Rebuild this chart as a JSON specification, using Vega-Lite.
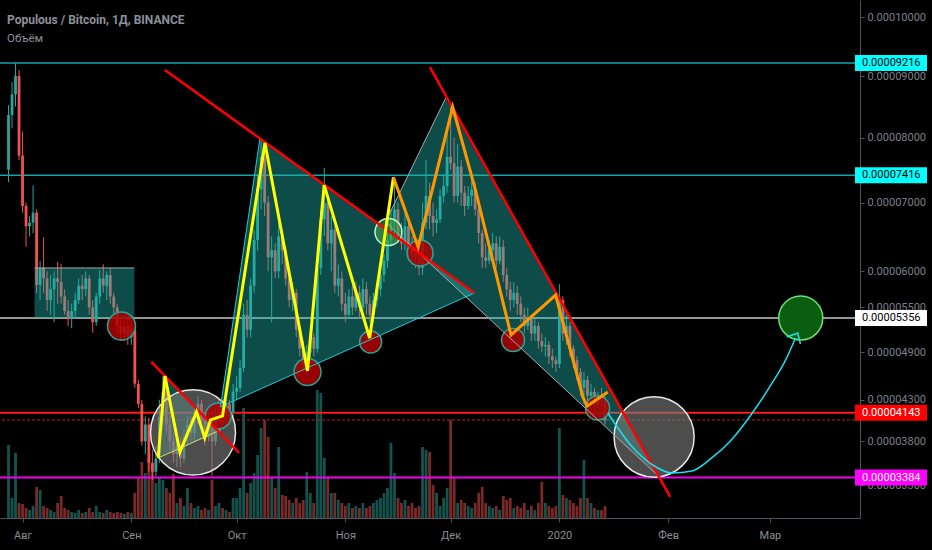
{
"$schema": "https://vega.github.io/schema/vega-lite/v6.json",
"width": 860, "height": 518,
"autosize": {"type": "none"},
"padding": {"left": 0, "top": 0, "right": 72, "bottom": 32},
"background": "#000000",
"config": {"view": {"stroke": null}, "font": "Roboto"},
"title": {"text": "Populous / Bitcoin, 1Д, BINANCE", "subtitle": "Объём", "anchor": "start", "frame": "group", "orient": "top", "offset": -45, "dx": 7, "fontSize": 12, "fontWeight": "bold", "color": "#8d9099", "subtitleFontSize": 11.5, "subtitleColor": "#8d9099", "subtitlePadding": 6, "font": "Roboto", "subtitleFont": "Roboto"},
"datasets": {
"candles": [
{"t":"2019-07-28","o":7500,"h":8524,"l":7310,"c":8363,"v":73},
{"t":"2019-07-29","o":8363,"h":8900,"l":8150,"c":8700,"v":20},
{"t":"2019-07-30","o":8700,"h":9216,"l":8500,"c":9000,"v":65},
{"t":"2019-07-31","o":9000,"h":9100,"l":7650,"c":7720,"v":15},
{"t":"2019-08-01","o":7720,"h":8100,"l":6850,"c":6950,"v":14},
{"t":"2019-08-02","o":6950,"h":7000,"l":6350,"c":6650,"v":10},
{"t":"2019-08-03","o":6650,"h":6800,"l":6500,"c":6700,"v":8},
{"t":"2019-08-04","o":6700,"h":7260,"l":6550,"c":6850,"v":12},
{"t":"2019-08-05","o":6850,"h":6900,"l":5700,"c":5810,"v":31},
{"t":"2019-08-06","o":5810,"h":6150,"l":5600,"c":6050,"v":28},
{"t":"2019-08-07","o":6050,"h":6490,"l":5700,"c":5900,"v":12},
{"t":"2019-08-08","o":5900,"h":6000,"l":5450,"c":5600,"v":10},
{"t":"2019-08-09","o":5600,"h":5950,"l":5400,"c":5750,"v":8},
{"t":"2019-08-10","o":5750,"h":6000,"l":5300,"c":5900,"v":6},
{"t":"2019-08-11","o":5900,"h":6130,"l":5550,"c":5850,"v":15},
{"t":"2019-08-12","o":5850,"h":6100,"l":5550,"c":5650,"v":22},
{"t":"2019-08-13","o":5650,"h":5750,"l":5400,"c":5450,"v":10},
{"t":"2019-08-14","o":5450,"h":5600,"l":5250,"c":5350,"v":8},
{"t":"2019-08-15","o":5350,"h":5550,"l":5220,"c":5450,"v":6},
{"t":"2019-08-16","o":5450,"h":5700,"l":5350,"c":5600,"v":5},
{"t":"2019-08-17","o":5600,"h":5900,"l":5550,"c":5800,"v":8},
{"t":"2019-08-18","o":5800,"h":5950,"l":5600,"c":5750,"v":5},
{"t":"2019-08-19","o":5750,"h":6000,"l":5650,"c":5900,"v":6},
{"t":"2019-08-20","o":5900,"h":5950,"l":5400,"c":5500,"v":10},
{"t":"2019-08-21","o":5500,"h":5600,"l":5160,"c":5300,"v":6},
{"t":"2019-08-22","o":5300,"h":5700,"l":5250,"c":5650,"v":12},
{"t":"2019-08-23","o":5650,"h":6020,"l":5550,"c":5900,"v":6},
{"t":"2019-08-24","o":5900,"h":6100,"l":5700,"c":5800,"v":5},
{"t":"2019-08-25","o":5800,"h":6000,"l":5600,"c":5950,"v":8},
{"t":"2019-08-26","o":5950,"h":6050,"l":5550,"c":5650,"v":6},
{"t":"2019-08-27","o":5650,"h":5700,"l":5400,"c":5500,"v":5},
{"t":"2019-08-28","o":5500,"h":5550,"l":5150,"c":5250,"v":6},
{"t":"2019-08-29","o":5250,"h":5350,"l":5050,"c":5150,"v":5},
{"t":"2019-08-30","o":5150,"h":5350,"l":5050,"c":5250,"v":4},
{"t":"2019-08-31","o":5250,"h":5350,"l":5000,"c":5100,"v":6},
{"t":"2019-09-01","o":5100,"h":5300,"l":5000,"c":5200,"v":5},
{"t":"2019-09-02","o":5200,"h":5250,"l":4450,"c":4500,"v":25},
{"t":"2019-09-03","o":4500,"h":4550,"l":4200,"c":4250,"v":40},
{"t":"2019-09-04","o":4250,"h":4300,"l":3750,"c":3800,"v":56},
{"t":"2019-09-05","o":3800,"h":4100,"l":3650,"c":4000,"v":45},
{"t":"2019-09-06","o":4000,"h":4080,"l":3450,"c":3550,"v":60},
{"t":"2019-09-07","o":3550,"h":3700,"l":3357,"c":3450,"v":55},
{"t":"2019-09-08","o":3450,"h":3750,"l":3400,"c":3600,"v":35},
{"t":"2019-09-09","o":3600,"h":4300,"l":3550,"c":4100,"v":41},
{"t":"2019-09-10","o":4100,"h":4600,"l":4000,"c":4400,"v":38},
{"t":"2019-09-11","o":4400,"h":4550,"l":3900,"c":4000,"v":30},
{"t":"2019-09-12","o":4000,"h":4150,"l":3700,"c":3800,"v":25},
{"t":"2019-09-13","o":3800,"h":3900,"l":3550,"c":3650,"v":44},
{"t":"2019-09-14","o":3650,"h":3850,"l":3500,"c":3750,"v":15},
{"t":"2019-09-15","o":3750,"h":3850,"l":3500,"c":3600,"v":20},
{"t":"2019-09-16","o":3600,"h":3950,"l":3550,"c":3850,"v":12},
{"t":"2019-09-17","o":3850,"h":4100,"l":3750,"c":4000,"v":30},
{"t":"2019-09-18","o":4000,"h":4100,"l":3800,"c":3900,"v":15},
{"t":"2019-09-19","o":3900,"h":4200,"l":3800,"c":4100,"v":10},
{"t":"2019-09-20","o":4100,"h":4350,"l":4000,"c":4250,"v":12},
{"t":"2019-09-21","o":4250,"h":4300,"l":3950,"c":4050,"v":8},
{"t":"2019-09-22","o":4050,"h":4100,"l":3750,"c":3850,"v":10},
{"t":"2019-09-23","o":3850,"h":4150,"l":3800,"c":4050,"v":8},
{"t":"2019-09-24","o":4050,"h":4100,"l":3400,"c":3800,"v":38},
{"t":"2019-09-25","o":3800,"h":4200,"l":3750,"c":4100,"v":12},
{"t":"2019-09-26","o":4100,"h":4300,"l":4000,"c":4200,"v":15},
{"t":"2019-09-27","o":4200,"h":4300,"l":4000,"c":4100,"v":10},
{"t":"2019-09-28","o":4100,"h":4350,"l":4050,"c":4250,"v":8},
{"t":"2019-09-29","o":4250,"h":4300,"l":4050,"c":4150,"v":6},
{"t":"2019-09-30","o":4150,"h":4500,"l":4100,"c":4400,"v":20},
{"t":"2019-10-01","o":4400,"h":4600,"l":4300,"c":4450,"v":20},
{"t":"2019-10-02","o":4450,"h":4800,"l":4400,"c":4700,"v":30},
{"t":"2019-10-03","o":4700,"h":5550,"l":4650,"c":5400,"v":110},
{"t":"2019-10-04","o":5400,"h":5600,"l":5100,"c":5200,"v":25},
{"t":"2019-10-05","o":5200,"h":5900,"l":5100,"c":5800,"v":35},
{"t":"2019-10-06","o":5800,"h":6600,"l":5700,"c":6450,"v":45},
{"t":"2019-10-07","o":6450,"h":7400,"l":6300,"c":7200,"v":63},
{"t":"2019-10-08","o":7200,"h":7990,"l":6900,"c":7700,"v":90},
{"t":"2019-10-09","o":7700,"h":7950,"l":6800,"c":7000,"v":98},
{"t":"2019-10-10","o":7000,"h":7100,"l":6000,"c":6200,"v":81},
{"t":"2019-10-11","o":6200,"h":6500,"l":5300,"c":6300,"v":40},
{"t":"2019-10-12","o":6300,"h":6400,"l":5900,"c":6000,"v":30},
{"t":"2019-10-13","o":6000,"h":6700,"l":5900,"c":6500,"v":71},
{"t":"2019-10-14","o":6500,"h":6600,"l":6100,"c":6300,"v":23},
{"t":"2019-10-15","o":6300,"h":6350,"l":5800,"c":5900,"v":22},
{"t":"2019-10-16","o":5900,"h":6000,"l":5500,"c":5600,"v":18},
{"t":"2019-10-17","o":5600,"h":5850,"l":5450,"c":5700,"v":15},
{"t":"2019-10-18","o":5700,"h":5750,"l":5100,"c":5200,"v":20},
{"t":"2019-10-19","o":5200,"h":5250,"l":4850,"c":4950,"v":15},
{"t":"2019-10-20","o":4950,"h":5050,"l":4650,"c":4750,"v":18},
{"t":"2019-10-21","o":4750,"h":5000,"l":4600,"c":4900,"v":46},
{"t":"2019-10-22","o":4900,"h":5200,"l":4800,"c":5100,"v":25},
{"t":"2019-10-23","o":5100,"h":5150,"l":4850,"c":4950,"v":15},
{"t":"2019-10-24","o":4950,"h":6150,"l":4900,"c":6050,"v":128},
{"t":"2019-10-25","o":6050,"h":6900,"l":5950,"c":6750,"v":125},
{"t":"2019-10-26","o":6750,"h":7530,"l":6500,"c":7000,"v":60},
{"t":"2019-10-27","o":7000,"h":7100,"l":6300,"c":6400,"v":40},
{"t":"2019-10-28","o":6400,"h":6800,"l":6000,"c":6600,"v":25},
{"t":"2019-10-29","o":6600,"h":6650,"l":5700,"c":5800,"v":25},
{"t":"2019-10-30","o":5800,"h":6100,"l":5650,"c":5900,"v":18},
{"t":"2019-10-31","o":5900,"h":6000,"l":5450,"c":5550,"v":15},
{"t":"2019-11-01","o":5550,"h":5700,"l":5300,"c":5400,"v":12},
{"t":"2019-11-02","o":5400,"h":5750,"l":5350,"c":5650,"v":15},
{"t":"2019-11-03","o":5650,"h":5800,"l":5400,"c":5500,"v":10},
{"t":"2019-11-04","o":5500,"h":5850,"l":5450,"c":5700,"v":12},
{"t":"2019-11-05","o":5700,"h":5800,"l":5350,"c":5500,"v":10},
{"t":"2019-11-06","o":5500,"h":5900,"l":5450,"c":5750,"v":15},
{"t":"2019-11-07","o":5750,"h":5850,"l":5400,"c":5550,"v":10},
{"t":"2019-11-08","o":5550,"h":5650,"l":5300,"c":5400,"v":12},
{"t":"2019-11-09","o":5400,"h":5700,"l":5300,"c":5600,"v":15},
{"t":"2019-11-10","o":5600,"h":5850,"l":5500,"c":5750,"v":18},
{"t":"2019-11-11","o":5750,"h":6050,"l":5650,"c":5950,"v":20},
{"t":"2019-11-12","o":5950,"h":6250,"l":5850,"c":6150,"v":25},
{"t":"2019-11-13","o":6150,"h":6550,"l":6050,"c":6450,"v":30},
{"t":"2019-11-14","o":6450,"h":6900,"l":6350,"c":6700,"v":75},
{"t":"2019-11-15","o":6700,"h":7380,"l":6500,"c":6900,"v":45},
{"t":"2019-11-16","o":6900,"h":7000,"l":6400,"c":6500,"v":20},
{"t":"2019-11-17","o":6500,"h":6700,"l":6300,"c":6400,"v":15},
{"t":"2019-11-18","o":6400,"h":6900,"l":6300,"c":6650,"v":18},
{"t":"2019-11-19","o":6650,"h":6750,"l":6200,"c":6350,"v":12},
{"t":"2019-11-20","o":6350,"h":6500,"l":6100,"c":6250,"v":15},
{"t":"2019-11-21","o":6250,"h":6400,"l":6050,"c":6200,"v":10},
{"t":"2019-11-22","o":6200,"h":6300,"l":5950,"c":6050,"v":12},
{"t":"2019-11-23","o":6050,"h":7000,"l":5950,"c":6700,"v":71},
{"t":"2019-11-24","o":6700,"h":7650,"l":6600,"c":7100,"v":68},
{"t":"2019-11-25","o":7100,"h":7300,"l":6600,"c":6800,"v":66},
{"t":"2019-11-26","o":6800,"h":7000,"l":6500,"c":6700,"v":33},
{"t":"2019-11-27","o":6700,"h":6900,"l":6550,"c":6750,"v":25},
{"t":"2019-11-28","o":6750,"h":7200,"l":6700,"c":7100,"v":12},
{"t":"2019-11-29","o":7100,"h":7400,"l":7000,"c":7250,"v":20},
{"t":"2019-11-30","o":7250,"h":8100,"l":7150,"c":7700,"v":30},
{"t":"2019-12-01","o":7700,"h":8490,"l":7500,"c":7600,"v":98},
{"t":"2019-12-02","o":7600,"h":8000,"l":7000,"c":7100,"v":41},
{"t":"2019-12-03","o":7100,"h":7900,"l":7000,"c":7550,"v":15},
{"t":"2019-12-04","o":7550,"h":7650,"l":6950,"c":7150,"v":18},
{"t":"2019-12-05","o":7150,"h":7250,"l":6800,"c":6950,"v":15},
{"t":"2019-12-06","o":6950,"h":7250,"l":6900,"c":7100,"v":12},
{"t":"2019-12-07","o":7100,"h":7350,"l":6950,"c":7200,"v":10},
{"t":"2019-12-08","o":7200,"h":7300,"l":6800,"c":6900,"v":15},
{"t":"2019-12-09","o":6900,"h":7000,"l":6400,"c":6550,"v":25},
{"t":"2019-12-10","o":6550,"h":6600,"l":6050,"c":6200,"v":31},
{"t":"2019-12-11","o":6200,"h":6400,"l":6050,"c":6150,"v":15},
{"t":"2019-12-12","o":6150,"h":6450,"l":6100,"c":6300,"v":12},
{"t":"2019-12-13","o":6300,"h":6550,"l":6200,"c":6400,"v":10},
{"t":"2019-12-14","o":6400,"h":6500,"l":6050,"c":6150,"v":12},
{"t":"2019-12-15","o":6150,"h":6500,"l":6100,"c":6350,"v":8},
{"t":"2019-12-16","o":6350,"h":6450,"l":5850,"c":5950,"v":22},
{"t":"2019-12-17","o":5950,"h":6050,"l":5650,"c":5750,"v":18},
{"t":"2019-12-18","o":5750,"h":5850,"l":5450,"c":5600,"v":20},
{"t":"2019-12-19","o":5600,"h":5850,"l":5500,"c":5700,"v":10},
{"t":"2019-12-20","o":5700,"h":5800,"l":5400,"c":5550,"v":12},
{"t":"2019-12-21","o":5550,"h":5650,"l":5300,"c":5400,"v":10},
{"t":"2019-12-22","o":5400,"h":5500,"l":5150,"c":5250,"v":15},
{"t":"2019-12-23","o":5250,"h":5500,"l":5200,"c":5350,"v":8},
{"t":"2019-12-24","o":5350,"h":5400,"l":5050,"c":5150,"v":12},
{"t":"2019-12-25","o":5150,"h":5350,"l":5050,"c":5250,"v":8},
{"t":"2019-12-26","o":5250,"h":5300,"l":4950,"c":5050,"v":15},
{"t":"2019-12-27","o":5050,"h":5150,"l":4900,"c":4980,"v":36},
{"t":"2019-12-28","o":4980,"h":5100,"l":4850,"c":5000,"v":15},
{"t":"2019-12-29","o":5000,"h":5050,"l":4750,"c":4850,"v":12},
{"t":"2019-12-30","o":4850,"h":4950,"l":4700,"c":4800,"v":10},
{"t":"2019-12-31","o":4800,"h":4850,"l":4650,"c":4750,"v":12},
{"t":"2020-01-01","o":4750,"h":5820,"l":4700,"c":5600,"v":90},
{"t":"2020-01-02","o":5600,"h":5650,"l":5050,"c":5150,"v":23},
{"t":"2020-01-03","o":5150,"h":5400,"l":5000,"c":5250,"v":20},
{"t":"2020-01-04","o":5250,"h":5300,"l":4850,"c":4950,"v":18},
{"t":"2020-01-05","o":4950,"h":5000,"l":4700,"c":4800,"v":15},
{"t":"2020-01-06","o":4800,"h":4850,"l":4550,"c":4650,"v":12},
{"t":"2020-01-07","o":4650,"h":4700,"l":4350,"c":4450,"v":20},
{"t":"2020-01-08","o":4450,"h":4650,"l":4250,"c":4550,"v":58},
{"t":"2020-01-09","o":4550,"h":4600,"l":4250,"c":4350,"v":20},
{"t":"2020-01-10","o":4350,"h":4500,"l":4250,"c":4400,"v":15},
{"t":"2020-01-11","o":4400,"h":4450,"l":4150,"c":4250,"v":10},
{"t":"2020-01-12","o":4250,"h":4400,"l":4200,"c":4350,"v":8},
{"t":"2020-01-13","o":4350,"h":4450,"l":4200,"c":4300,"v":8},
{"t":"2020-01-14","o":4300,"h":4350,"l":4000,"c":4050,"v":12}
],
"levels": [
{"p":9216,"kind":"r1","lab":"0.00009216"},
{"p":7416,"kind":"r2","lab":"0.00007416"},
{"p":5356,"kind":"mid","lab":"0.00005356"},
{"p":4143,"kind":"s1","lab":"0.00004143"},
{"p":4055,"kind":"s1b","lab":""},
{"p":3384,"kind":"s2","lab":"0.00003384"}
],
"zones": [
{"g":"box","t":"2019-08-04T10:00:00Z","p":6048,"p2":5356},
{"g":"box","t":"2019-09-01T21:00:00Z","p":6048,"p2":5356},
{"g":"tri1","t":"2019-09-26T10:00:00Z","p":4213,"p2":4213},
{"g":"tri1","t":"2019-10-07T16:00:00Z","p":7996,"p2":4432},
{"g":"tri1","t":"2019-12-07T19:00:00Z","p":5698,"p2":5698},
{"g":"tri2","t":"2019-11-12T10:00:00Z","p":6711,"p2":6711},
{"g":"tri2","t":"2019-11-29T14:00:00Z","p":8637,"p2":5904},
{"g":"tri2","t":"2020-01-29T12:00:00Z","p":3390,"p2":3390},
{"g":"triS","t":"2019-09-08T16:00:00Z","p":3607,"p2":3607},
{"g":"triS","t":"2019-09-10T14:00:00Z","p":4611,"p2":3640},
{"g":"triS","t":"2019-09-26T03:00:00Z","p":3911,"p2":3911}
],
"circles": [
{"k":"zone","t":"2019-09-18T14:00:00Z","p":3906,"rd":11.97},
{"k":"zone","t":"2020-01-28T00:00:00Z","p":3852,"rd":11.27},
{"k":"break","t":"2019-08-29T05:00:00Z","p":5249,"rd":3.94},
{"k":"break","t":"2019-09-25T19:00:00Z","p":4103,"rd":3.66},
{"k":"break","t":"2019-10-21T05:00:00Z","p":4650,"rd":3.8},
{"k":"break","t":"2019-11-08T05:00:00Z","p":5038,"rd":3.1},
{"k":"break","t":"2019-11-22T07:00:00Z","p":6261,"rd":3.66},
{"k":"break","t":"2019-12-18T19:00:00Z","p":5064,"rd":3.24},
{"k":"break","t":"2020-01-11T21:00:00Z","p":4200,"rd":3.38},
{"k":"touch","t":"2019-11-13T07:00:00Z","p":6566,"rd":3.8},
{"k":"target","t":"2020-03-09T19:00:00Z","p":5356,"rd":6.2}
],
"paths": [
{"g":"boxtop","i":0,"t":"2019-08-04T10:00:00Z","p":6048},
{"g":"boxtop","i":1,"t":"2019-09-01T21:00:00Z","p":6048},
{"g":"edge1L","i":0,"t":"2019-09-26T10:00:00Z","p":4213},
{"g":"edge1L","i":1,"t":"2019-10-07T16:00:00Z","p":7996},
{"g":"edge1B","i":0,"t":"2019-09-26T10:00:00Z","p":4213},
{"g":"edge1B","i":1,"t":"2019-12-07T19:00:00Z","p":5698},
{"g":"edge2L","i":0,"t":"2019-11-12T10:00:00Z","p":6711},
{"g":"edge2L","i":1,"t":"2019-11-29T14:00:00Z","p":8637},
{"g":"edge2B","i":0,"t":"2019-11-12T10:00:00Z","p":6711},
{"g":"edge2B","i":1,"t":"2020-01-29T12:00:00Z","p":3390},
{"g":"base","i":0,"t":"2019-09-08T16:00:00Z","p":3607},
{"g":"base","i":1,"t":"2019-09-26T10:00:00Z","p":3935},
{"g":"trendA","i":0,"t":"2019-09-10T14:00:00Z","p":9100},
{"g":"trendA","i":1,"t":"2019-12-07T19:00:00Z","p":5698},
{"g":"trendB","i":0,"t":"2019-09-06T17:00:00Z","p":4778},
{"g":"trendB","i":1,"t":"2019-10-01T17:00:00Z","p":3665},
{"g":"trendC","i":0,"t":"2019-11-25T02:00:00Z","p":9150},
{"g":"trendC","i":1,"t":"2020-02-01T14:00:00Z","p":3170},
{"g":"wave1","i":0,"t":"2019-09-08T16:00:00Z","p":3607},
{"g":"wave1","i":1,"t":"2019-09-10T14:00:00Z","p":4598},
{"g":"wave1","i":2,"t":"2019-09-14T20:00:00Z","p":3676},
{"g":"wave1","i":3,"t":"2019-09-19T14:00:00Z","p":4152},
{"g":"wave1","i":4,"t":"2019-09-21T22:00:00Z","p":3841},
{"g":"wave1","i":5,"t":"2019-09-23T14:00:00Z","p":4055},
{"g":"wave1","i":6,"t":"2019-09-27T00:00:00Z","p":4103},
{"g":"wave1","i":7,"t":"2019-10-09T02:00:00Z","p":7917},
{"g":"wave1","i":8,"t":"2019-10-21T05:00:00Z","p":4663},
{"g":"wave1","i":9,"t":"2019-10-25T23:00:00Z","p":7265},
{"g":"wave1","i":10,"t":"2019-11-07T22:00:00Z","p":5090},
{"g":"wave1","i":11,"t":"2019-11-14T17:00:00Z","p":7386},
{"g":"wave2","i":0,"t":"2019-11-14T17:00:00Z","p":7386},
{"g":"wave2","i":1,"t":"2019-11-21T18:00:00Z","p":6348},
{"g":"wave2","i":2,"t":"2019-12-01T14:00:00Z","p":8492},
{"g":"wave2","i":3,"t":"2019-12-08T02:00:00Z","p":7190},
{"g":"wave2","i":4,"t":"2019-12-18T05:00:00Z","p":5130},
{"g":"wave2","i":5,"t":"2019-12-30T22:00:00Z","p":5670},
{"g":"wave2","i":6,"t":"2020-01-07T19:00:00Z","p":4323},
{"g":"wave2","i":7,"t":"2020-01-08T22:00:00Z","p":4225},
{"g":"wave2","i":8,"t":"2020-01-14T19:00:00Z","p":4398},
{"g":"arrow","i":0,"t":"2020-01-14T19:00:00Z","p":4139},
{"g":"arrow","i":1,"t":"2020-01-21T19:00:00Z","p":3734},
{"g":"arrow","i":2,"t":"2020-01-28T01:00:00Z","p":3515},
{"g":"arrow","i":3,"t":"2020-02-02T03:00:00Z","p":3435},
{"g":"arrow","i":4,"t":"2020-02-07T19:00:00Z","p":3458},
{"g":"arrow","i":5,"t":"2020-02-13T10:00:00Z","p":3607},
{"g":"arrow","i":6,"t":"2020-02-19T00:00:00Z","p":3817},
{"g":"arrow","i":7,"t":"2020-02-24T14:00:00Z","p":4115},
{"g":"arrow","i":8,"t":"2020-03-01T07:00:00Z","p":4486},
{"g":"arrow","i":9,"t":"2020-03-05T12:00:00Z","p":4804},
{"g":"arrow","i":10,"t":"2020-03-08T07:00:00Z","p":5090},
{"g":"head","i":0,"t":"2020-03-05T19:00:00Z","p":5103},
{"g":"head","i":1,"t":"2020-03-08T22:00:00Z","p":5156},
{"g":"head","i":2,"t":"2020-03-09T17:00:00Z","p":5011}
]
},
"layer": [
{
"data": {"name": "candles"},
"mark": {"type": "bar", "width": 2.8, "opacity": 0.5},
"encoding": {
"x": {"field": "t", "type": "temporal", "scale": {"type": "utc", "domain": [{"year": 2019, "month": 7, "date": 27, "utc": true}, {"year": 2020, "month": 3, "date": 25, "hours": 6, "utc": true}], "nice": false},
"axis": {"values": [{"year": 2019, "month": 8, "date": 1, "utc": true}, {"year": 2019, "month": 9, "date": 1, "utc": true}, {"year": 2019, "month": 10, "date": 1, "utc": true}, {"year": 2019, "month": 11, "date": 1, "utc": true}, {"year": 2019, "month": 12, "date": 1, "utc": true}, {"year": 2020, "month": 1, "date": 1, "utc": true}, {"year": 2020, "month": 2, "date": 1, "utc": true}, {"year": 2020, "month": 3, "date": 1, "utc": true}],
"labelExpr": "utcmonth(datum.value) == 0 ? '2020' : ['Янв','Фев','Мар','Апр','Май','Июн','Июл','Авг','Сен','Окт','Ноя','Дек'][utcmonth(datum.value)]",
"title": null, "grid": false, "tickSize": 4, "labelPadding": 7, "labelColor": "#8a8d95", "tickColor": "#50535d", "domainColor": "#50535d", "labelFontSize": 11, "labelFont": "Roboto", "labelFlush": false}},
"y": {"field": "v", "type": "quantitative", "scale": {"domain": [0, 518]}, "axis": null},
"color": {"condition": {"test": "datum.c >= datum.o", "value": "#26a69a"}, "value": "#ef5350"}
}
},
{
"layer": [
{"data": {"name": "levels"}, "transform": [{"filter": {"field": "kind", "oneOf": ["r1", "r2"]}}],
 "mark": {"type": "rule", "color": "#16a3a8", "strokeWidth": 1.5},
 "encoding": {"y": {"field": "p", "type": "quantitative"}}},
{"data": {"name": "levels"}, "transform": [{"filter": {"field": "kind", "equal": "mid"}}],
 "mark": {"type": "rule", "color": "#c8c8c8", "strokeWidth": 1.5},
 "encoding": {"y": {"field": "p", "type": "quantitative"}}},
{"data": {"name": "levels"}, "transform": [{"filter": {"field": "kind", "equal": "s1"}}],
 "mark": {"type": "rule", "color": "#ff1a1a", "strokeWidth": 2},
 "encoding": {"y": {"field": "p", "type": "quantitative"}}},
{"data": {"name": "levels"}, "transform": [{"filter": {"field": "kind", "equal": "s1b"}}],
 "mark": {"type": "rule", "color": "#b52222", "strokeWidth": 1, "strokeDash": [3, 2]},
 "encoding": {"y": {"field": "p", "type": "quantitative"}}},
{"data": {"name": "levels"}, "transform": [{"filter": {"field": "kind", "equal": "s2"}}],
 "mark": {"type": "rule", "color": "#f000f0", "strokeWidth": 2},
 "encoding": {"y": {"field": "p", "type": "quantitative"}}},
{"data": {"name": "candles"},
 "mark": {"type": "rule", "strokeWidth": 1},
 "encoding": {
  "x": {"field": "t", "type": "temporal"},
  "y": {"field": "l", "type": "quantitative", "scale": {"type": "pow", "exponent": 0.6, "domain": [2943, 10296], "nice": false, "zero": false},
   "axis": {"orient": "right", "values": [3300, 3800, 4300, 4900, 5500, 6000, 7000, 8000, 9000, 10000], "labelExpr": "format(datum.value / 100000000, '.8f')", "title": null, "grid": false, "tickSize": 4, "labelPadding": 3, "labelColor": "#7d808a", "tickColor": "#50535d", "domainColor": "#50535d", "labelFontSize": 11, "labelFont": "Roboto"}},
  "y2": {"field": "h"},
  "color": {"condition": {"test": "datum.c >= datum.o", "value": "#26a69a"}, "value": "#ef5350"}}},
{"data": {"name": "candles"},
 "mark": {"type": "bar", "width": 2.8},
 "encoding": {
  "x": {"field": "t", "type": "temporal"},
  "y": {"field": "o", "type": "quantitative"},
  "y2": {"field": "c"},
  "color": {"condition": {"test": "datum.c >= datum.o", "value": "#26a69a"}, "value": "#ef5350"}}},
{"data": {"name": "zones"},
 "mark": {"type": "area", "color": "#22b5ad", "opacity": 0.42},
 "encoding": {
  "x": {"field": "t", "type": "temporal"},
  "y": {"field": "p", "type": "quantitative"},
  "y2": {"field": "p2"},
  "detail": {"field": "g"}}},
{"data": {"name": "circles"}, "transform": [{"filter": {"field": "k", "equal": "zone"}}],
 "mark": {"type": "point", "shape": "circle", "filled": true, "fill": "#7c7c7c", "fillOpacity": 0.62, "stroke": "#e8e8e8", "strokeWidth": 1.5, "strokeOpacity": 1, "opacity": 1},
 "encoding": {"x": {"field": "t", "type": "temporal"}, "y": {"field": "p", "type": "quantitative"},
  "size": {"field": "rd", "type": "quantitative", "scale": {"type": "pow", "exponent": 2, "domain": [0, 10], "range": [0, 5041]}, "legend": null}}},
{"data": {"name": "circles"}, "transform": [{"filter": {"field": "k", "equal": "break"}}],
 "mark": {"type": "point", "shape": "circle", "filled": true, "fill": "#b00000", "fillOpacity": 0.85, "stroke": "#26a69a", "strokeWidth": 1.5, "strokeOpacity": 1, "opacity": 1},
 "encoding": {"x": {"field": "t", "type": "temporal"}, "y": {"field": "p", "type": "quantitative"},
  "size": {"field": "rd", "type": "quantitative", "legend": null}}},
{"data": {"name": "circles"}, "transform": [{"filter": {"field": "k", "equal": "touch"}}],
 "mark": {"type": "point", "shape": "circle", "filled": true, "fill": "#43a047", "fillOpacity": 0.6, "stroke": "#b9f6ca", "strokeWidth": 1.5, "strokeOpacity": 1, "opacity": 1},
 "encoding": {"x": {"field": "t", "type": "temporal"}, "y": {"field": "p", "type": "quantitative"},
  "size": {"field": "rd", "type": "quantitative", "legend": null}}},
{"data": {"name": "circles"}, "transform": [{"filter": {"field": "k", "equal": "target"}}],
 "mark": {"type": "point", "shape": "circle", "filled": true, "fill": "#0b5e10", "fillOpacity": 1, "stroke": "#6ee06e", "strokeWidth": 1.5, "strokeOpacity": 1, "opacity": 1},
 "encoding": {"x": {"field": "t", "type": "temporal"}, "y": {"field": "p", "type": "quantitative"},
  "size": {"field": "rd", "type": "quantitative", "legend": null}}},
{"data": {"name": "paths"}, "transform": [{"filter": {"field": "g", "oneOf": ["edge1L", "edge1B"]}}],
 "mark": {"type": "line", "color": "#26c6da", "strokeWidth": 1},
 "encoding": {"x": {"field": "t", "type": "temporal"}, "y": {"field": "p", "type": "quantitative"}, "detail": {"field": "g"}, "order": {"field": "i", "type": "quantitative"}}},
{"data": {"name": "paths"}, "transform": [{"filter": {"field": "g", "oneOf": ["edge2L", "edge2B", "boxtop"]}}],
 "mark": {"type": "line", "color": "#a8a8a8", "strokeWidth": 1},
 "encoding": {"x": {"field": "t", "type": "temporal"}, "y": {"field": "p", "type": "quantitative"}, "detail": {"field": "g"}, "order": {"field": "i", "type": "quantitative"}}},
{"data": {"name": "paths"}, "transform": [{"filter": {"field": "g", "equal": "base"}}],
 "mark": {"type": "line", "color": "#d8d860", "strokeWidth": 1},
 "encoding": {"x": {"field": "t", "type": "temporal"}, "y": {"field": "p", "type": "quantitative"}, "order": {"field": "i", "type": "quantitative"}}},
{"data": {"name": "paths"}, "transform": [{"filter": {"field": "g", "oneOf": ["trendA", "trendB", "trendC"]}}],
 "mark": {"type": "line", "color": "#ff0000", "strokeWidth": 2.5},
 "encoding": {"x": {"field": "t", "type": "temporal"}, "y": {"field": "p", "type": "quantitative"}, "detail": {"field": "g"}, "order": {"field": "i", "type": "quantitative"}}},
{"data": {"name": "paths"}, "transform": [{"filter": {"field": "g", "equal": "wave1"}}],
 "mark": {"type": "line", "color": "#ffff00", "strokeWidth": 3},
 "encoding": {"x": {"field": "t", "type": "temporal"}, "y": {"field": "p", "type": "quantitative"}, "order": {"field": "i", "type": "quantitative"}}},
{"data": {"name": "paths"}, "transform": [{"filter": {"field": "g", "equal": "wave2"}}],
 "mark": {"type": "line", "color": "#ff9800", "strokeWidth": 3},
 "encoding": {"x": {"field": "t", "type": "temporal"}, "y": {"field": "p", "type": "quantitative"}, "order": {"field": "i", "type": "quantitative"}}},
{"data": {"name": "paths"}, "transform": [{"filter": {"field": "g", "equal": "arrow"}}],
 "mark": {"type": "line", "color": "#18e0f0", "strokeWidth": 1.5, "interpolate": "monotone"},
 "encoding": {"x": {"field": "t", "type": "temporal"}, "y": {"field": "p", "type": "quantitative"}, "order": {"field": "i", "type": "quantitative"}}},
{"data": {"name": "paths"}, "transform": [{"filter": {"field": "g", "equal": "head"}}],
 "mark": {"type": "line", "color": "#18e0f0", "strokeWidth": 1.5},
 "encoding": {"x": {"field": "t", "type": "temporal"}, "y": {"field": "p", "type": "quantitative"}, "order": {"field": "i", "type": "quantitative"}}},
{"data": {"name": "levels"}, "transform": [{"filter": {"field": "kind", "oneOf": ["r1", "r2", "mid", "s1", "s2"]}}],
 "mark": {"type": "rule", "strokeWidth": 16, "x2Offset": 72, "strokeCap": "butt"},
 "encoding": {
  "x": {"datum": {"year": 2020, "month": 3, "date": 25, "hours": 6, "utc": true}, "type": "temporal"},
  "x2": {"datum": {"year": 2020, "month": 3, "date": 25, "hours": 6, "utc": true}},
  "y": {"field": "p", "type": "quantitative"},
  "stroke": {"field": "kind", "type": "nominal", "scale": {"domain": ["r1", "r2", "mid", "s1", "s2"], "range": ["#00ffff", "#00ffff", "#ffffff", "#ff0000", "#ff00ff"]}, "legend": null}}},
{"data": {"name": "levels"}, "transform": [{"filter": {"field": "kind", "oneOf": ["r1", "r2", "mid", "s1", "s2"]}}],
 "mark": {"type": "text", "align": "left", "baseline": "middle", "dx": 7, "fontSize": 11, "font": "Roboto"},
 "encoding": {
  "x": {"datum": {"year": 2020, "month": 3, "date": 25, "hours": 6, "utc": true}, "type": "temporal"},
  "y": {"field": "p", "type": "quantitative"},
  "text": {"field": "lab"},
  "fill": {"field": "kind", "type": "nominal", "scale": {"domain": ["r1", "r2", "mid", "s1", "s2"], "range": ["#000000", "#000000", "#000000", "#ffffff", "#ffffff"]}, "legend": null}}}
]
}
],
"resolve": {"scale": {"y": "independent"}}
}
